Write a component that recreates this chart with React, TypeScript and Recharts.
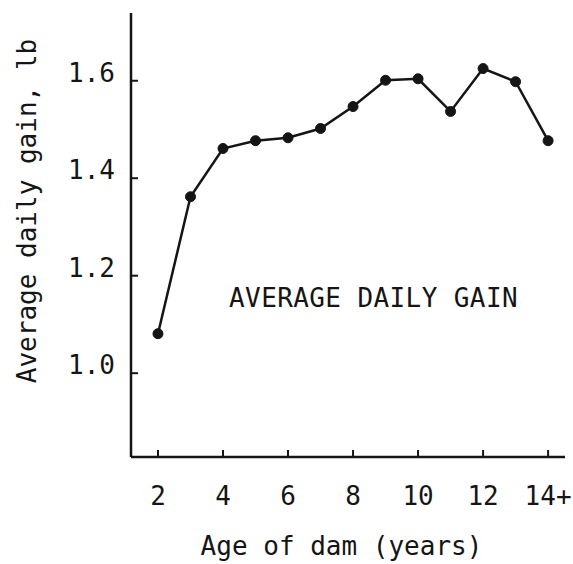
import React from "react";
import {
  LineChart,
  Line,
  XAxis,
  YAxis,
  ReferenceDot,
} from "recharts";

// age of dam (years); last point is "14+"
const ages = [2, 3, 4, 5, 6, 7, 8, 9, 10, 11, 12, 13, 14];
const gains = [1.081, 1.362, 1.461, 1.477, 1.483, 1.502, 1.547, 1.601, 1.604, 1.537, 1.625, 1.598, 1.477];

const xTicks = [2, 4, 6, 8, 10, 12, 14];
const xTickLabels = ["2", "4", "6", "8", "10", "12", "14+"];
const yTicks = [1.0, 1.2, 1.4, 1.6];

const data = ages.map((age, i) => ({ age, gain: gains[i] }));

const FONT = "DejaVu Sans Mono";
const INK = "#151515";

const App = () => {
  return (
    <div style={{ position: "absolute", left: 0, top: 0, background: "#fff" }}>
      <LineChart
        width={573}
        height={564}
        data={data}
        margin={{ top: 13, right: 8, left: 0, bottom: 0 }}
      >
        <XAxis
          dataKey="age"
          type="number"
          domain={[1.17, 14.52]}
          ticks={xTicks}
          allowDataOverflow
          height={107}
          tickSize={-7}
          tickMargin={37}
          axisLine={{ stroke: INK, strokeWidth: 2.5 }}
          tickLine={{ stroke: INK, strokeWidth: 2 }}
          tick={{ fill: INK, fontSize: 26, fontFamily: FONT }}
          tickFormatter={(v) => xTickLabels[xTicks.indexOf(v)] ?? String(v)}
          label={{
            content: () => (
              <text
                x={341.5}
                y={555}
                textAnchor="middle"
                fontSize={26}
                fontFamily={FONT}
                fill={INK}
              >
                Age of dam (years)
              </text>
            ),
          }}
        />
        <YAxis
          type="number"
          domain={[0.828, 1.739]}
          ticks={yTicks}
          allowDataOverflow
          width={131}
          tickSize={-7}
          tickMargin={23}
          axisLine={{ stroke: INK, strokeWidth: 2.5 }}
          tickLine={{ stroke: INK, strokeWidth: 2 }}
          tick={{ fill: INK, fontSize: 26, fontFamily: FONT, dy: -8 }}
          tickFormatter={(v) => v.toFixed(1)}
          label={{
            content: () => (
              <text
                x={36}
                y={211}
                transform="rotate(-90, 36, 211)"
                textAnchor="middle"
                fontSize={26}
                fontFamily={FONT}
                fill={INK}
              >
                Average daily gain, lb
              </text>
            ),
          }}
        />
        <ReferenceDot
          x={8.63}
          y={1.154}
          r={0}
          fill="none"
          stroke="none"
          label={{
            value: "AVERAGE DAILY GAIN",
            position: "center",
            fontSize: 26,
            fontFamily: FONT,
            fill: INK,
            letterSpacing: 0.4,
          }}
        />
        <Line
          type="linear"
          dataKey="gain"
          stroke={INK}
          strokeWidth={2.5}
          dot={{ r: 5, fill: INK, stroke: INK, strokeWidth: 1 }}
          isAnimationActive={false}
        />
      </LineChart>
    </div>
  );
};

export default App;
